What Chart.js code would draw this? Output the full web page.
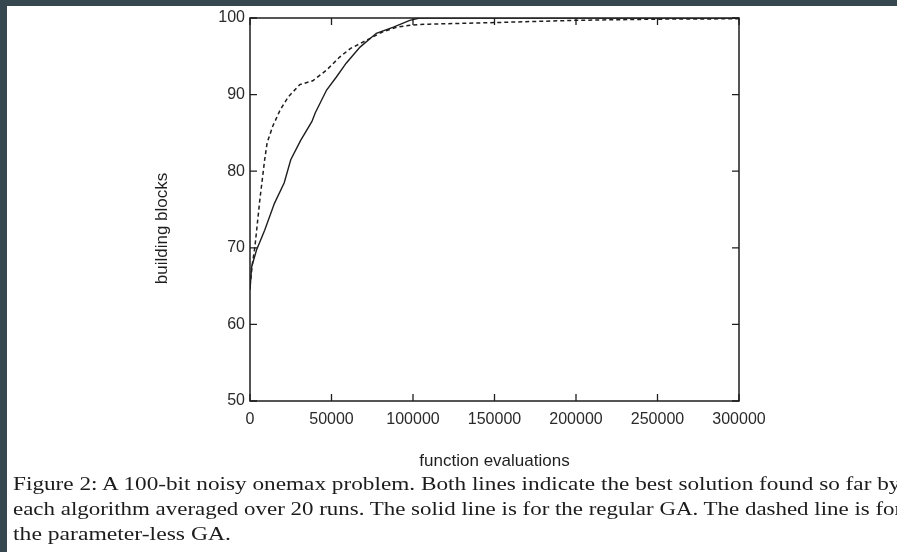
<!DOCTYPE html>
<html>
<head>
<meta charset="utf-8">
<script src="https://cdn.jsdelivr.net/npm/chart.js@4/dist/chart.umd.min.js"></script>
<style>
  html, body { margin:0; padding:0; background:#fff; }
  body { width:897px; height:552px; position:relative; overflow:hidden; }
  #wrap { position:absolute; left:0; top:0; width:897px; height:552px; }
  .bar-top { position:absolute; left:0; top:0; width:897px; height:6px; background:#37474f; }
  .bar-left { position:absolute; left:0; top:0; width:7px; height:552px; background:#37474f; }
  .cap { position:absolute; left:13px; white-space:nowrap; font-family:"Liberation Serif", serif; font-size:19px; line-height:25px; color:#1c1c1c; transform-origin:0 0; }
</style>
</head>
<body>
<div id="wrap"><canvas id="c"></canvas></div>
<div class="cap" id="l1" style="top:471px">Figure 2: A 100-bit noisy onemax problem. Both lines indicate the best solution found so far by</div>
<div class="cap" id="l2" style="top:496px">each algorithm averaged over 20 runs. The solid line is for the regular GA. The dashed line is for</div>
<div class="cap" id="l3" style="top:521px">the parameter-less GA.</div>
<div class="bar-top"></div>
<div class="bar-left"></div>
<script>
// ---- data ----
const xTickValues = [0, 50000, 100000, 150000, 200000, 250000, 300000];
const yTickValues = [50, 60, 70, 80, 90, 100];
const xTitle = "function evaluations";
const yTitle = "building blocks";

const regularEvals  = [0, 1000, 4000, 9000, 15000, 21000, 25000, 31000, 38000, 40000, 47000, 53000, 59000, 67500, 77500, 88000, 98000, 104000, 300000];
const regularBlocks = [64.5, 67.5, 69.7, 72.3, 75.8, 78.5, 81.5, 84.0, 86.5, 87.6, 90.6, 92.3, 94.1, 96.2, 98.0, 98.8, 99.7, 100, 100];

const plessEvals  = [0, 1500, 3000, 6000, 9000, 10500, 14000, 18500, 23500, 30500, 38500, 47000, 55000, 61500, 71500, 81500, 90000, 100000, 110000, 150000, 200000, 250000, 300000];
const plessBlocks = [65, 68, 70.1, 76.2, 81.5, 83.7, 85.9, 88.0, 89.7, 91.3, 91.8, 93.2, 94.9, 96.0, 97.1, 98.2, 98.8, 99.1, 99.2, 99.4, 99.7, 99.85, 99.9];

const INK = '#1e1e1e';

function pairs(xs, ys) { return xs.map((x, i) => ({x: x, y: ys[i]})); }

const framePlugin = {
  id: 'frame',
  afterDatasetsDraw(chart) {
    const ctx = chart.ctx, a = chart.chartArea;
    const xs = chart.scales.x, ys = chart.scales.y;
    const tl = 7;
    ctx.save();
    ctx.strokeStyle = INK;
    ctx.lineWidth = 1.3;
    ctx.beginPath();
    xTickValues.forEach(v => {
      const px = xs.getPixelForValue(v);
      ctx.moveTo(px, a.bottom); ctx.lineTo(px, a.bottom - tl);
      ctx.moveTo(px, a.top); ctx.lineTo(px, a.top + tl);
    });
    yTickValues.forEach(v => {
      const py = ys.getPixelForValue(v);
      ctx.moveTo(a.left, py); ctx.lineTo(a.left + tl, py);
      ctx.moveTo(a.right, py); ctx.lineTo(a.right - tl, py);
    });
    ctx.stroke();
    ctx.lineWidth = 1.5;
    ctx.strokeRect(a.left, a.top, a.right - a.left, a.bottom - a.top);
    // axis titles
    ctx.fillStyle = INK;
    ctx.font = '17px "Liberation Sans", Arial, sans-serif';
    ctx.textAlign = 'center';
    ctx.textBaseline = 'middle';
    ctx.fillText(xTitle, (a.left + a.right) / 2, a.bottom + 60);
    ctx.translate(a.left - 88, (a.top + a.bottom) / 2 + 19);
    ctx.rotate(-Math.PI / 2);
    ctx.fillText(yTitle, 0, 0);
    ctx.restore();
  }
};

new Chart(document.getElementById('c'), {
  type: 'line',
  data: {
    datasets: [
      { label: 'regular GA', data: pairs(regularEvals, regularBlocks), borderColor: INK, borderWidth: 1.4, pointRadius: 0, tension: 0, fill: false },
      { label: 'parameter-less GA', data: pairs(plessEvals, plessBlocks), borderColor: INK, borderWidth: 1.5, borderDash: [4, 3], pointRadius: 0, tension: 0, fill: false }
    ]
  },
  options: {
    responsive: true,
    maintainAspectRatio: false,
    animation: false,
    layout: { padding: { left: 0, top: 18, right: 158, bottom: 0 } },
    plugins: { legend: { display: false }, tooltip: { enabled: false } },
    scales: {
      x: {
        type: 'linear', min: 0, max: 300000,
        afterBuildTicks: s => { s.ticks = xTickValues.map(v => ({value: v})); },
        ticks: { color: '#2a2a2a', font: { family: '"Liberation Sans", Arial, sans-serif', size: 16 }, padding: 9, maxRotation: 0, autoSkip: false, callback: v => String(v) },
        grid: { display: false, drawTicks: false, tickLength: 0 }, border: { display: false },
        afterFit: s => { s.height = 151; }
      },
      y: {
        type: 'linear', min: 50, max: 100,
        afterBuildTicks: s => { s.ticks = yTickValues.map(v => ({value: v})); },
        ticks: { color: '#2a2a2a', font: { family: '"Liberation Sans", Arial, sans-serif', size: 16 }, padding: 5, autoSkip: false, callback: v => String(v) },
        grid: { display: false, drawTicks: false, tickLength: 0 }, border: { display: false },
        afterFit: s => { s.width = 250; }
      }
    }
  },
  plugins: [framePlugin]
});

// fit each caption line to the width it has in the reference
(function () {
  const c = document.createElement('canvas').getContext('2d');
  c.font = '19px "Liberation Serif"';
  const targets = { l1: 890, l2: 890, l3: 218 };
  Object.keys(targets).forEach(id => {
    const el = document.getElementById(id);
    const w = c.measureText(el.textContent).width;
    el.style.transform = 'scaleX(' + (targets[id] / w) + ')';
  });
})();
</script>
</body>
</html>
